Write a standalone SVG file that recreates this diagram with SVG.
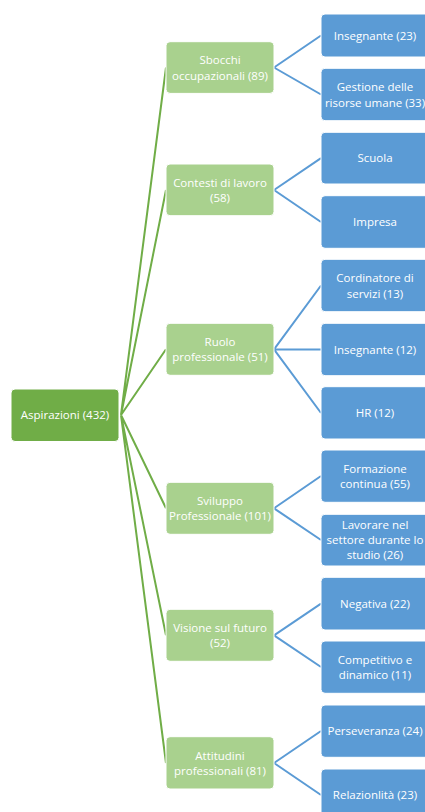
<svg xmlns="http://www.w3.org/2000/svg" width="425" height="812" viewBox="0 0 425 812">
<style>
.root{fill:#70AD47;stroke:#fff;stroke-width:1}
.mid{fill:#A9D18E;stroke:#fff;stroke-width:1}
.leaf{fill:#5B9BD5;stroke:#fff;stroke-width:1}
text{font-family:"Open Sans","Noto Sans",sans-serif;font-size:11.5px;fill:#fff;text-anchor:middle}
.g{stroke:#70AD47;stroke-width:2;fill:none}
.b{stroke:#5B9BD5;stroke-width:2;fill:none}
</style>
<rect width="425" height="812" fill="#fff"/>
<g id="connectors">
<path class="g" d="M121,415L166,67.5M121,415L166,190M121,415L166,349.3M121,415L166,508.3M121,415L166,635.3M121,415L166,763"/>
<path class="b" d="M274,67.5L321,35.5M274,67.5L321,94.5M274,190L321,158.2M274,190L321,222M274,349.3L321,285.5M274,349.3L321,349.5M274,349.3L321,413M274,508.3L321,476M274,508.3L321,540M274,635.3L321,603.7M274,635.3L321,667M274,763L321,731M274,763L321,795"/>
</g>
<g id="root"><rect class="root" x="11" y="389" width="108" height="52.5" rx="4"/><text x="65" y="419.3">Aspirazioni (432)</text></g>
<g id="sbocchi"><rect class="mid" x="166" y="41.7" width="108" height="51.7" rx="4"/><text x="220" y="64">Sbocchi</text><text x="220" y="79.5">occupazionali (89)</text></g>
<g id="contesti"><rect class="mid" x="166" y="164" width="108" height="51.7" rx="4"/><text x="220" y="186.5">Contesti di lavoro</text><text x="220" y="202">(58)</text></g>
<g id="ruolo"><rect class="mid" x="166" y="323.3" width="108" height="52" rx="4"/><text x="220" y="345.8">Ruolo</text><text x="220" y="361.3">professionale (51)</text></g>
<g id="sviluppo"><rect class="mid" x="166" y="482.3" width="108" height="52" rx="4"/><text x="220" y="504.8">Sviluppo</text><text x="220" y="520.3">Professionale (101)</text></g>
<g id="visione"><rect class="mid" x="166" y="609.3" width="108" height="52" rx="4"/><text x="220" y="631.8">Visione sul futuro</text><text x="220" y="647.3">(52)</text></g>
<g id="attitudini"><rect class="mid" x="166" y="736.7" width="108" height="52.3" rx="4"/><text x="220" y="759.5">Attitudini</text><text x="220" y="775">professionali (81)</text></g>
<g id="insegnante23"><rect class="leaf" x="321" y="14" width="108" height="43" rx="4"/><text x="375" y="39.5">Insegnante (23)</text></g>
<g id="gestione"><rect class="leaf" x="321" y="68.3" width="108" height="52.4" rx="4"/><text x="375" y="91">Gestione delle</text><text x="375" y="106.5">risorse umane (33)</text></g>
<g id="scuola"><rect class="leaf" x="321" y="132.3" width="108" height="51.7" rx="4"/><text x="375" y="162.2">Scuola</text></g>
<g id="impresa"><rect class="leaf" x="321" y="195.7" width="108" height="52.6" rx="4"/><text x="375" y="226">Impresa</text></g>
<g id="cordinatore"><rect class="leaf" x="321" y="259.3" width="108" height="52.4" rx="4"/><text x="375" y="282">Cordinatore di</text><text x="375" y="297.5">servizi (13)</text></g>
<g id="insegnante12"><rect class="leaf" x="321" y="323.3" width="108" height="52.4" rx="4"/><text x="375" y="353.5">Insegnante (12)</text></g>
<g id="hr"><rect class="leaf" x="321" y="386.7" width="108" height="52.3" rx="4"/><text x="375" y="417">HR (12)</text></g>
<g id="formazione"><rect class="leaf" x="321" y="450" width="108" height="52.3" rx="4"/><text x="375" y="472.5">Formazione</text><text x="375" y="488">continua (55)</text></g>
<g id="lavorare"><rect class="leaf" x="321" y="514.3" width="108" height="51.7" rx="4"/><text x="375" y="529">Lavorare nel</text><text x="375" y="544">settore durante lo</text><text x="375" y="559">studio (26)</text></g>
<g id="negativa"><rect class="leaf" x="321" y="577.3" width="108" height="52.7" rx="4"/><text x="375" y="607.7">Negativa (22)</text></g>
<g id="competitivo"><rect class="leaf" x="321" y="641" width="108" height="52.3" rx="4"/><text x="375" y="663.5">Competitivo e</text><text x="375" y="679">dinamico (11)</text></g>
<g id="perseveranza"><rect class="leaf" x="321" y="705" width="108" height="52.3" rx="4"/><text x="375" y="735">Perseveranza (24)</text></g>
<g id="relazionlita"><rect class="leaf" x="321" y="769" width="108" height="52" rx="4"/><text x="375" y="799">Relazionlità (23)</text></g>
</svg>
